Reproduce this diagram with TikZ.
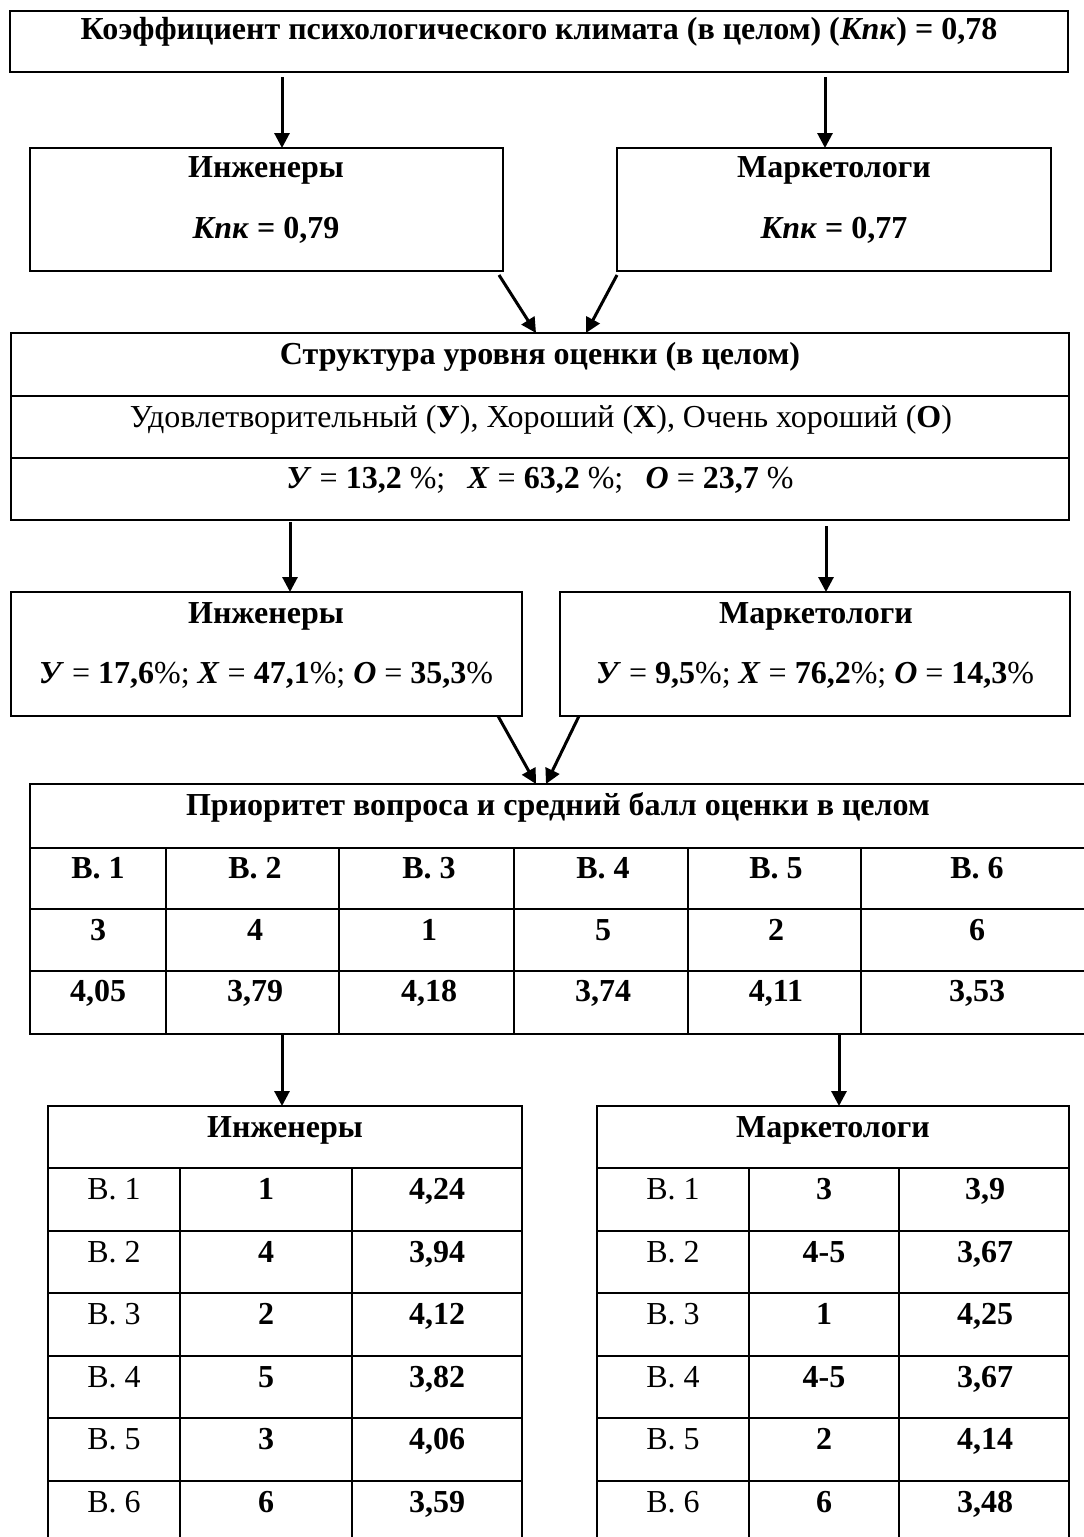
\documentclass[tikz,border=0pt]{standalone}
\usepackage{fontspec}
\setmainfont{Liberation Serif}
\usetikzlibrary{arrows.meta}
\begin{document}
\begin{tikzpicture}[x=1pt,y=-1pt,
  box/.style={draw, line width=2.5pt, inner sep=0pt, outer sep=0pt, anchor=north west},
  grid/.style={line width=2.5pt},
  txt/.style={anchor=base, inner sep=0pt, font=\fontsize{32}{38}\selectfont},
  arr/.style={-{Triangle[width=15pt,length=15pt]}, line width=3pt}]
\useasboundingbox (0,0) rectangle (1084,1537);
\clip (0,0) rectangle (1084,1537);

% ---------- level 1
\node[box, minimum width=1058pt, minimum height=61pt] (kpk) at (10,11) {};
\node[txt] (kpkT) at (539,39) {\textbf{Коэффициент психологического климата (в целом) (\textit{Кпк}) = 0,78}};

% ---------- level 2
\node[box, minimum width=473pt, minimum height=123pt] (inzA) at (30,148) {};
\node[box, minimum width=434pt, minimum height=123pt] (mrkA) at (617,148) {};
\node[txt] (inzAT) at (266,177) {\textbf{Инженеры}};
\node[txt] (inzAV) at (266,238) {\textbf{\textit{Кпк} = 0,79}};
\node[txt] (mrkAT) at (834,177) {\textbf{Маркетологи}};
\node[txt] (mrkAV) at (834,238) {\textbf{\textit{Кпк} = 0,77}};

\coordinate (xa) at (282,0);
\coordinate (xb) at (825,0);
\draw[arr, shorten <=5pt] (kpk.south -| xa) -- (inzA.north -| xa);
\draw[arr, shorten <=5pt] (kpk.south -| xb) -- (mrkA.north -| xb);

% ---------- level 3
\node[box, minimum width=1058pt, minimum height=187pt] (str) at (11,333) {};
\draw[grid] (11,396) -- (1069,396);
\draw[grid] (11,458) -- (1069,458);
\node[txt] (strT) at (540,364) {\textbf{Структура уровня оценки (в целом)}};
\node[txt] (strL) at (541,427) {Удовлетворительный (\textbf{У}), Хороший (\textbf{Х}), Очень хороший (\textbf{О})};
\node[txt] (strV) at (540,488) {\textbf{\textit{У}} = \textbf{13,2} \%;\hspace{0.7em}\textbf{\textit{Х}} = \textbf{63,2} \%;\hspace{0.7em}\textbf{\textit{О}} = \textbf{23,7} \%};

\coordinate (xc) at (536,0);
\coordinate (xd) at (586,0);
\draw[arr] ([xshift=-4pt,yshift=-4pt]inzA.south east) -- (str.north -| xc);
\draw[arr] ([yshift=-4pt]mrkA.south west) -- (str.north -| xd);

% ---------- level 4
\node[box, minimum width=511pt, minimum height=124pt] (inzB) at (11,592) {};
\node[box, minimum width=510pt, minimum height=124pt] (mrkB) at (560,592) {};
\node[txt] (inzBT) at (266,623) {\textbf{Инженеры}};
\node[txt] (inzBV) at (266,683) {\textbf{\textit{У}} = \textbf{17,6}\%; \textbf{\textit{Х}} = \textbf{47,1}\%; \textbf{\textit{О}} = \textbf{35,3}\%};
\node[txt] (mrkBT) at (816,623) {\textbf{Маркетологи}};
\node[txt] (mrkBV) at (815,683) {\textbf{\textit{У}} = \textbf{9,5}\%; \textbf{\textit{Х}} = \textbf{76,2}\%; \textbf{\textit{О}} = \textbf{14,3}\%};

\coordinate (xe) at (290,0);
\coordinate (xf) at (826,0);
\draw[arr, shorten <=2pt] (str.south -| xe) -- (inzB.north -| xe);
\draw[arr, shorten <=6pt] (str.south -| xf) -- (mrkB.north -| xf);

% ---------- level 5: priority table
\node[box, minimum width=1060pt, minimum height=250pt] (prio) at (30,784) {};
\foreach \y in {848,909,971} \draw[grid] (30,\y) -- (1090,\y);
\foreach \x in {166,339,514,688,861} \draw[grid] (\x,848) -- (\x,1034);
\node[txt] (prioT) at (558,815) {\textbf{Приоритет вопроса и средний балл оценки в целом}};
\foreach \i/\x/\r/\v in {1/98/3/{4,05}, 2/255/4/{3,79}, 3/429/1/{4,18}, 4/603/5/{3,74}, 5/776/2/{4,11}, 6/977/6/{3,53}} {
  \node[txt] (pq\i) at (\x,878) {\textbf{В. \i}};
  \node[txt] (pr\i) at (\x,940) {\textbf{\r}};
  \node[txt] (pv\i) at (\x,1001) {\textbf{\v}};
}

\coordinate (xg) at (282,0);
\coordinate (xh) at (839,0);
\coordinate (xi) at (546,0);
\draw[arr] ([xshift=-24pt]inzB.south east) -- (prio.north -| xc);
\draw[arr] ([xshift=19pt]mrkB.south west) -- (prio.north -| xi);

% ---------- level 6: group tables
\node[box, minimum width=474pt, minimum height=439pt] (inzC) at (48,1106) {};
\node[box, minimum width=472pt, minimum height=439pt] (mrkC) at (597,1106) {};
\foreach \y in {1168,1231,1293,1356,1418,1481} {
  \draw[grid] (48,\y) -- (522,\y);
  \draw[grid] (597,\y) -- (1069,\y);
}
\foreach \x in {180,352,749,899} \draw[grid] (\x,1168) -- (\x,1545);
\node[txt] (inzCT) at (285,1137) {\textbf{Инженеры}};
\node[txt] (mrkCT) at (833,1137) {\textbf{Маркетологи}};
\foreach \i/\y/\r/\v in {1/1199/1/{4,24}, 2/1262/4/{3,94}, 3/1324/2/{4,12}, 4/1387/5/{3,82}, 5/1449/3/{4,06}, 6/1512/6/{3,59}} {
  \node[txt] (iq\i) at (114,\y) {В. \i};
  \node[txt] (ir\i) at (266,\y) {\textbf{\r}};
  \node[txt] (iv\i) at (437,\y) {\textbf{\v}};
}
\foreach \i/\y/\r/\v in {1/1199/3/{3,9}, 2/1262/4-5/{3,67}, 3/1324/1/{4,25}, 4/1387/4-5/{3,67}, 5/1449/2/{4,14}, 6/1512/6/{3,48}} {
  \node[txt] (mq\i) at (673,\y) {В. \i};
  \node[txt] (mr\i) at (824,\y) {\textbf{\r}};
  \node[txt] (mv\i) at (985,\y) {\textbf{\v}};
}

\draw[arr] (prio.south -| xg) -- (inzC.north -| xg);
\draw[arr] (prio.south -| xh) -- (mrkC.north -| xh);
\end{tikzpicture}
\end{document}
